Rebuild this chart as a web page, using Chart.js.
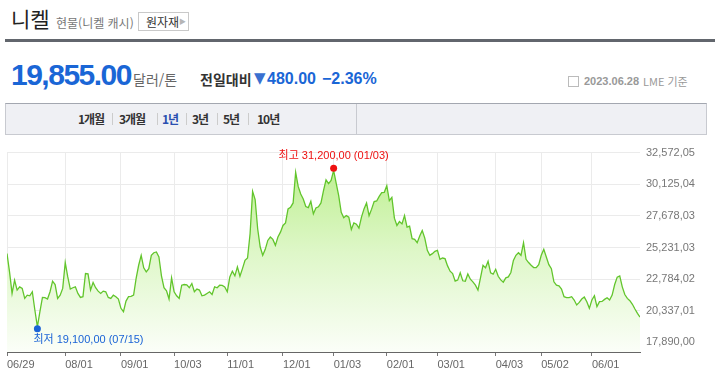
<!DOCTYPE html>
<html lang="ko">
<head>
<meta charset="utf-8">
<script src="https://cdn.jsdelivr.net/npm/chart.js@4.4.0/dist/chart.umd.min.js"></script>
<style>
  body { margin: 0; width: 715px; height: 378px; overflow: hidden; background: #fff; font-family: "Noto Sans CJK KR", "Liberation Sans", sans-serif; position: relative; }
  .abs { position: absolute; white-space: nowrap; }
  .num { font-family: "Liberation Sans", Arial, sans-serif; }
  #tabs { position: absolute; left: 5px; top: 103px; width: 700px; height: 30px; background: #eff0f4; border: 1px solid #c8cad0; border-top-color: #a3a7b0; }
  #tabs .t { position: absolute; top: 7px; font-size: 12px; font-weight: bold; color: #333; letter-spacing: -1px; line-height: 16px; }
  #tabs .sep { position: absolute; top: 9px; width: 1px; height: 12px; background: #ccc; }
  #chartBox { position: absolute; left: 0; top: 140px; width: 715px; height: 238px; }
</style>
</head>
<body>
<!-- header -->
<div class="abs" style="left:11px;top:5px;font-size:21px;line-height:26px;color:#222;">니켈</div>
<div class="abs" style="left:56px;top:14px;font-size:12px;line-height:18px;color:#777;">현물(니켈 캐시)</div>
<div class="abs" style="left:138px;top:12px;width:49px;height:17px;border:1px solid #c9c9c9;font-size:12px;line-height:17px;color:#333;">
  <span style="position:absolute;left:7px;">원자재</span>
  <span style="position:absolute;left:40px;top:0;font-size:7px;color:#b5b5b5;">▶</span>
</div>
<div class="abs" style="left:5px;top:39px;width:710px;height:3px;background:#62666d;"></div>

<div class="abs num" style="left:11px;top:58px;font-size:30px;line-height:34px;font-weight:bold;color:#1a66d6;letter-spacing:-1.5px;">19,855.00</div>
<div class="abs" style="left:133px;top:71px;font-size:14px;line-height:16px;color:#666;">달러/톤</div>
<div class="abs" style="left:200px;top:71px;font-size:14px;line-height:16px;font-weight:bold;color:#333;">전일대비</div>
<div class="abs" style="left:254px;top:68px;font-size:15px;line-height:20px;color:#3a70d0;font-family:'DejaVu Sans',sans-serif;">▼</div>
<div class="abs num" style="left:267px;top:69px;font-size:16px;line-height:20px;font-weight:bold;color:#1a66d6;">480.00</div>
<div class="abs num" style="left:322px;top:69px;font-size:16px;line-height:20px;font-weight:bold;color:#1a66d6;">−2.36%</div>

<div class="abs" style="left:568px;top:76px;width:9px;height:9px;border:1px solid #bbb;"></div>
<div class="abs num" style="left:584px;top:74px;font-size:11px;line-height:14px;font-weight:bold;color:#999;">2023.06.28</div>
<div class="abs" style="left:643px;top:74px;font-size:11px;line-height:14px;color:#999;">LME 기준</div>

<!-- period tabs -->
<div id="tabs">
  <span class="t" style="left:72px;">1개월</span><span class="sep" style="left:106px;"></span>
  <span class="t" style="left:113px;">3개월</span><span class="sep" style="left:151px;"></span>
  <span class="t" style="left:156px;color:#2a4fb0;">1년</span><span class="sep" style="left:180px;"></span>
  <span class="t" style="left:186px;">3년</span><span class="sep" style="left:211px;"></span>
  <span class="t" style="left:217px;">5년</span><span class="sep" style="left:242px;"></span>
  <span class="t" style="left:251px;">10년</span>
  <span style="position:absolute;left:350px;top:0;width:1px;height:30px;background:#c8cad0;"></span>
</div>

<div id="chartBox"><canvas id="grafico" width="715" height="238"></canvas></div>

<script>
// daily LME nickel cash prices, 2022-06-29 .. 2023-06-28 (USD/t)
const precos = [
  24760, 23350, 21680, 22710, 21940, 22190, 22070, 21300, 21550, 21500,
  21810, 20400, 19100, 20270, 21370, 21350, 21250, 21810, 22630, 22370,
  21300, 21550, 22070, 24070, 22960, 22020, 22120, 22190, 21680, 21370,
  21430, 23220, 23200, 21940, 22530, 22120, 21860, 21680, 21860, 21810,
  21370, 21300, 21550, 21430, 21250, 20530, 20270, 21090, 21430, 21450,
  21550, 22840, 23860, 24630, 23660, 23350, 23600, 24630, 24830, 24890,
  24500, 23040, 22120, 21890, 21250, 22890, 21810, 21500, 21300, 22320,
  22370, 22350, 22120, 22450, 21810, 22020, 21940, 21500, 21550, 21680,
  21810, 21600, 22190, 22120, 22320, 22300, 22190, 21810, 22960, 23400,
  23040, 23730, 23010, 23600, 24240, 24420, 26300, 29580, 28940, 26680,
  25270, 24630, 25090, 25780, 26040, 25860, 25400, 26040, 26420, 26940,
  27140, 28220, 28350, 28680, 31050, 29960, 29370, 28990, 28400, 28320,
  28810, 27830, 28290, 28380, 28680, 29630, 30470, 30170, 30420, 31200,
  30220, 29240, 27960, 27530, 27700, 27580, 26630, 27140, 27040, 26730,
  27580, 28220, 28680, 27700, 28200, 28780, 28830, 29190, 29470, 29500,
  30010, 28860, 29110, 27500, 26940, 27240, 27060, 27700, 26810, 26890,
  25910, 25860, 25600, 26120, 26550, 25960, 25010, 24630, 24760, 24940,
  25010, 24320, 24420, 24370, 23810, 23400, 23220, 22630, 22710, 23270,
  22660, 22630, 23190, 22780, 22580, 22320, 21940, 22890, 23860, 23660,
  24170, 23270, 23170, 23550, 23010, 22730, 22550, 22890, 22960, 23300,
  24240, 24630, 24830, 24630, 25600, 24320, 24070, 23860, 23680, 23680,
  23910, 24630, 25090, 24500, 23910, 23600, 22580, 22320, 22270, 22020,
  21430, 21350, 21360, 21430, 21170, 20790, 20990, 21250, 21400, 21040,
  20530, 21170, 21500, 20660, 21040, 21060, 21220, 21350, 21170, 21550,
  22370, 22940, 23040, 22190, 21600, 21300, 21120, 20840, 20480, 20140,
  19855
];

// month ticks (trading day index -> label)
const xTickIdx = [0, 23, 45, 66, 87, 109, 129, 150, 170, 193, 211, 231];
const xTickLabels = ["06/29", "08/01", "09/01", "10/03", "11/01", "12/01", "01/03", "02/01", "03/01", "04/03", "05/02", "06/01"];

const yTickVals = [17890.00, 20337.01, 22784.02, 25231.03, 27678.03, 30125.04, 32572.05];
const yTickLabels = ["17,890,00", "20,337,01", "22,784,02", "25,231,03", "27,678,03", "30,125,04", "32,572,05"];

const dataMax = "01/03";
const dataMin = "07/15";

function formatar(v) {
  return v.toLocaleString("en-US", { minimumFractionDigits: 2, maximumFractionDigits: 2 }).replace(/\.(\d\d)$/, ",$1");
}

// draws the high / low markers
const marcadores = {
  id: "marcadores",
  afterDatasetsDraw(chart) {
    const ctx = chart.ctx;
    const xs = chart.scales.x, ys = chart.scales.y;
    const iMax = precos.indexOf(Math.max(...precos));
    const iMin = precos.indexOf(Math.min(...precos));
    ctx.save();
    ctx.font = "11px 'Liberation Sans', 'Noto Sans CJK KR', sans-serif";
    ctx.textBaseline = "middle";

    let x = xs.getPixelForValue(iMax), y = ys.getPixelForValue(precos[iMax]);
    ctx.fillStyle = "#ee1111";
    ctx.beginPath(); ctx.arc(x, y - 2, 3.5, 0, Math.PI * 2); ctx.fill();
    ctx.textAlign = "center";
    ctx.fillText("최고 " + formatar(precos[iMax]) + " (" + dataMax + ")", x, y - 14);

    x = xs.getPixelForValue(iMin); y = ys.getPixelForValue(precos[iMin]);
    ctx.fillStyle = "#1a63d6";
    ctx.beginPath(); ctx.arc(x, y + 2, 3.5, 0, Math.PI * 2); ctx.fill();
    ctx.textAlign = "left";
    ctx.fillText("최저 " + formatar(precos[iMin]) + " (" + dataMin + ")", x - 4, y + 13);
    ctx.restore();
  }
};

const ctx = document.getElementById("grafico").getContext("2d");
new Chart(ctx, {
  type: "line",
  data: {
    datasets: [{
      data: precos.map((v, i) => ({ x: i, y: v })),
      borderColor: "#62c52c",
      borderWidth: 1.3,
      pointRadius: 0,
      tension: 0,
      fill: "start",
      backgroundColor: c => {
        const area = c.chart.chartArea;
        if (!area) return "rgba(190,240,150,0.5)";
        const g = c.chart.ctx.createLinearGradient(0, area.top, 0, area.bottom);
        g.addColorStop(0, "#b9ee88");
        g.addColorStop(0.5, "#def7c8");
        g.addColorStop(1, "#fbfef8");
        return g;
      }
    }]
  },
  options: {
    responsive: false,
    animation: false,
    devicePixelRatio: 1,
    layout: { padding: { left: 7, top: 12, right: 0, bottom: 0 } },
    plugins: { legend: { display: false }, tooltip: { enabled: false } },
    scales: {
      x: {
        type: "linear",
        min: 0,
        max: precos.length - 1,
        afterBuildTicks: s => { s.ticks = xTickIdx.map(v => ({ value: v })); },
        afterFit: s => { s.height = 26; },
        grid: { color: "#ebebeb", tickColor: "#777", tickLength: 4 },
        border: { color: "#666", width: 1 },
        ticks: {
          autoSkip: false,
          maxRotation: 0,
          align: "start",
          padding: 2,
          color: "#666",
          font: { family: "'Liberation Sans', Arial, sans-serif", size: 11 },
          callback: (v, i) => xTickLabels[i]
        }
      },
      y: {
        position: "right",
        min: 17152,
        max: 32572.05,
        afterBuildTicks: s => { s.ticks = yTickVals.map(v => ({ value: v })); },
        afterFit: s => { s.width = 75; },
        grid: { color: "#ebebeb", drawTicks: false },
        border: { display: false },
        ticks: {
          padding: 6,
          color: "#777",
          font: { family: "'Liberation Sans', Arial, sans-serif", size: 11 },
          callback: (v, i) => yTickLabels[i]
        }
      }
    }
  },
  plugins: [marcadores]
});
</script>
</body>
</html>
